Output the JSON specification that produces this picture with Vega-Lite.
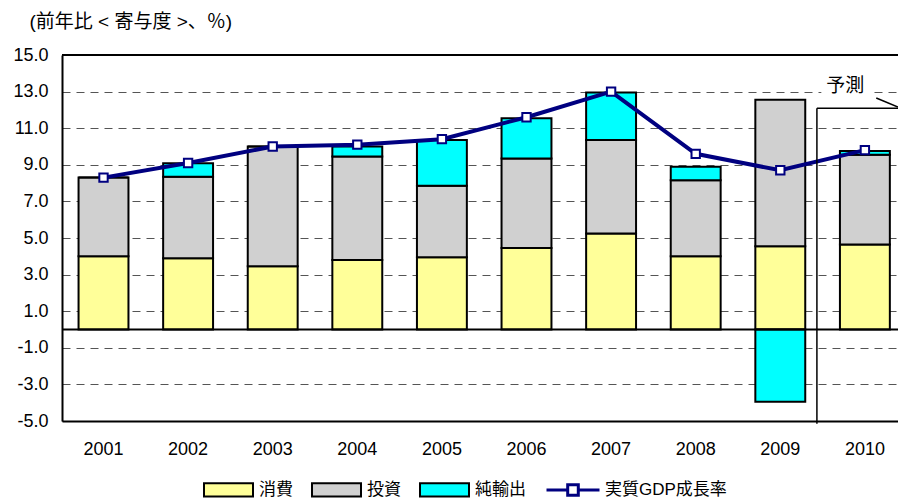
{
  "$schema": "https://vega.github.io/schema/vega-lite/v6.json",
  "width": 836,
  "height": 366,
  "autosize": {"type": "none"},
  "padding": {"left": 62, "top": 55, "right": 0, "bottom": 79},
  "config": {
    "font": "Liberation Sans, Noto Sans CJK JP",
    "view": {"stroke": null},
    "axis": {"labelColor": "black", "titleColor": "black"}
  },
  "datasets": {
    "bars": [
      {"year": "2001", "series": "消費", "ord": 1, "value": 4.0},
      {"year": "2001", "series": "投資", "ord": 2, "value": 4.3},
      {"year": "2001", "series": "純輸出", "ord": 3, "value": 0.0},
      {"year": "2002", "series": "消費", "ord": 1, "value": 3.9},
      {"year": "2002", "series": "投資", "ord": 2, "value": 4.45},
      {"year": "2002", "series": "純輸出", "ord": 3, "value": 0.73},
      {"year": "2003", "series": "消費", "ord": 1, "value": 3.45},
      {"year": "2003", "series": "投資", "ord": 2, "value": 6.55},
      {"year": "2003", "series": "純輸出", "ord": 3, "value": 0.0},
      {"year": "2004", "series": "消費", "ord": 1, "value": 3.8},
      {"year": "2004", "series": "投資", "ord": 2, "value": 5.65},
      {"year": "2004", "series": "純輸出", "ord": 3, "value": 0.55},
      {"year": "2005", "series": "消費", "ord": 1, "value": 3.95},
      {"year": "2005", "series": "投資", "ord": 2, "value": 3.9},
      {"year": "2005", "series": "純輸出", "ord": 3, "value": 2.5},
      {"year": "2006", "series": "消費", "ord": 1, "value": 4.45},
      {"year": "2006", "series": "投資", "ord": 2, "value": 4.9},
      {"year": "2006", "series": "純輸出", "ord": 3, "value": 2.2},
      {"year": "2007", "series": "消費", "ord": 1, "value": 5.25},
      {"year": "2007", "series": "投資", "ord": 2, "value": 5.1},
      {"year": "2007", "series": "純輸出", "ord": 3, "value": 2.6},
      {"year": "2008", "series": "消費", "ord": 1, "value": 4.0},
      {"year": "2008", "series": "投資", "ord": 2, "value": 4.15},
      {"year": "2008", "series": "純輸出", "ord": 3, "value": 0.75},
      {"year": "2009", "series": "消費", "ord": 1, "value": 4.55},
      {"year": "2009", "series": "投資", "ord": 2, "value": 8.0},
      {"year": "2009", "series": "純輸出", "ord": 3, "value": -3.95},
      {"year": "2010", "series": "消費", "ord": 1, "value": 4.65},
      {"year": "2010", "series": "投資", "ord": 2, "value": 4.9},
      {"year": "2010", "series": "純輸出", "ord": 3, "value": 0.2}
    ],
    "gdp": [
      {"year": "2001", "series": "実質GDP成長率", "value": 8.3},
      {"year": "2002", "series": "実質GDP成長率", "value": 9.1},
      {"year": "2003", "series": "実質GDP成長率", "value": 10.0},
      {"year": "2004", "series": "実質GDP成長率", "value": 10.1},
      {"year": "2005", "series": "実質GDP成長率", "value": 10.4},
      {"year": "2006", "series": "実質GDP成長率", "value": 11.6},
      {"year": "2007", "series": "実質GDP成長率", "value": 13.0},
      {"year": "2008", "series": "実質GDP成長率", "value": 9.6},
      {"year": "2009", "series": "実質GDP成長率", "value": 8.7},
      {"year": "2010", "series": "実質GDP成長率", "value": 9.8}
    ],
    "refs": [
      {"v": 0},
      {"v": 15}
    ],
    "bracket": [
      {"x": 9.03, "y": 12.09, "x2": 9.03, "y2": -5.15},
      {"x": 9.03, "y": 12.09, "x2": 10.0, "y2": 12.09},
      {"x": 9.74, "y": 12.65, "x2": 10.0, "y2": 12.16}
    ],
    "note": [
      {"x": 9.37, "y": 13.28, "label": "予測"}
    ]
  },
  "resolve": {
    "scale": {"x": "independent", "y": "independent"},
    "axis": {"x": "independent", "y": "independent"}
  },
  "layer": [
    {
      "layer": [
        {
          "data": {"name": "bars"},
          "mark": {"type": "bar", "stroke": "black", "strokeWidth": 2},
          "encoding": {
            "x": {
              "field": "year",
              "type": "ordinal",
              "scale": {"paddingInner": 0.41, "paddingOuter": 0.146, "align": 0.67},
              "axis": {
                "title": null,
                "labelAngle": 0,
                "labelFontSize": 18,
                "ticks": false,
                "labelPadding": 19,
                "domain": true,
                "domainColor": "black",
                "domainWidth": 2
              }
            },
            "y": {
              "field": "value",
              "type": "quantitative",
              "stack": "zero",
              "scale": {"domain": [-5, 15], "nice": false, "zero": false},
              "axis": {
                "values": [-5, -3, -1, 1, 3, 5, 7, 9, 11, 13, 15],
                "tickCount": 30,
                "labelExpr": "datum.value < 0 ? '-' + format(abs(datum.value), '.1f') : format(datum.value, '.1f')",
                "labelOverlap": false,
                "labelFontSize": 18,
                "labelPadding": 14,
                "ticks": false,
                "grid": true,
                "gridDash": [8, 6],
                "gridColor": "#555555",
                "gridWidth": 1,
                "domain": true,
                "domainColor": "black",
                "domainWidth": 2,
                "title": "(前年比 < 寄与度 >、％)",
                "titleAngle": 0,
                "titleAlign": "left",
                "titleBaseline": "top",
                "titleX": -33,
                "titleY": -43,
                "titleFontSize": 19,
                "titleFontWeight": "normal"
              }
            },
            "fill": {
              "field": "series",
              "type": "nominal",
              "scale": {
                "domain": ["消費", "投資", "純輸出"],
                "range": ["#FFFF99", "#D0D0D0", "#00FFFF"]
              },
              "legend": {
                "title": null,
                "orient": "none",
                "legendX": 141,
                "legendY": 409,
                "direction": "horizontal",
                "symbolSize": 2401,
                "symbolType": "M-1,-0.27H1V0.27H-1Z",
                "symbolStrokeColor": "black",
                "symbolStrokeWidth": 2,
                "symbolOpacity": 1,
                "labelFontSize": 17,
                "labelColor": "black",
                "labelOffset": 5,
                "columnPadding": 15,
                "encode": {
                  "symbols": {
                    "update": {
                      "stroke": {"value": "black"},
                      "strokeWidth": {"value": 2},
                      "opacity": {"value": 1},
                      "fillOpacity": {"value": 1}
                    }
                  }
                }
              }
            },
            "order": {"field": "ord", "type": "quantitative"}
          }
        },
        {
          "data": {"name": "refs"},
          "mark": {"type": "rule", "color": "black", "strokeWidth": 2},
          "encoding": {"y": {"field": "v", "type": "quantitative"}}
        },
        {
          "data": {"name": "gdp"},
          "mark": {"type": "line", "strokeWidth": 4},
          "encoding": {
            "x": {"field": "year", "type": "ordinal"},
            "y": {"field": "value", "type": "quantitative"},
            "stroke": {
              "field": "series",
              "type": "nominal",
              "scale": {"domain": ["実質GDP成長率"], "range": ["#000080"]},
              "legend": {
                "title": null,
                "orient": "none",
                "legendX": 483,
                "legendY": 407,
                "direction": "horizontal",
                "symbolSize": 2809,
                "symbolType": "M-1,0H-0.2M0.2,0H1M-0.2,-0.2H0.2V0.2H-0.2Z",
                "symbolFillColor": "white",
                "symbolStrokeWidth": 3,
                "symbolOpacity": 1,
                "labelFontSize": 17,
                "labelColor": "black",
                "labelOffset": 4,
                "encode": {
                  "symbols": {
                    "update": {
                      "fill": {"value": "white"},
                      "fillOpacity": {"value": 1},
                      "strokeWidth": {"value": 3},
                      "opacity": {"value": 1}
                    }
                  }
                }
              }
            }
          }
        },
        {
          "data": {"name": "gdp"},
          "mark": {"type": "point", "shape": "square", "filled": true, "fill": "white", "stroke": "#000080", "strokeWidth": 2, "size": 70, "opacity": 1},
          "encoding": {
            "x": {"field": "year", "type": "ordinal"},
            "y": {"field": "value", "type": "quantitative"}
          }
        }
      ]
    },
    {
      "layer": [
        {
          "data": {"name": "bracket"},
          "mark": {"type": "rule", "color": "black", "strokeWidth": 1.5},
          "encoding": {
            "x": {"field": "x", "type": "quantitative", "scale": {"domain": [0, 10], "nice": false, "zero": false}, "axis": null},
            "x2": {"field": "x2"},
            "y": {"field": "y", "type": "quantitative", "scale": {"domain": [-5, 15], "nice": false, "zero": false}, "axis": null},
            "y2": {"field": "y2"}
          }
        },
        {
          "data": {"name": "note"},
          "mark": {"type": "point", "shape": "M-1,-0.42H1V0.42H-1Z", "size": 2304, "filled": true, "fill": "white", "strokeWidth": 0, "opacity": 1},
          "encoding": {
            "x": {"field": "x", "type": "quantitative"},
            "y": {"field": "y", "type": "quantitative"}
          }
        },
        {
          "data": {"name": "note"},
          "mark": {"type": "text", "fontSize": 19, "color": "black", "align": "center", "baseline": "middle"},
          "encoding": {
            "x": {"field": "x", "type": "quantitative"},
            "y": {"field": "y", "type": "quantitative"},
            "text": {"field": "label"}
          }
        }
      ]
    }
  ]
}
